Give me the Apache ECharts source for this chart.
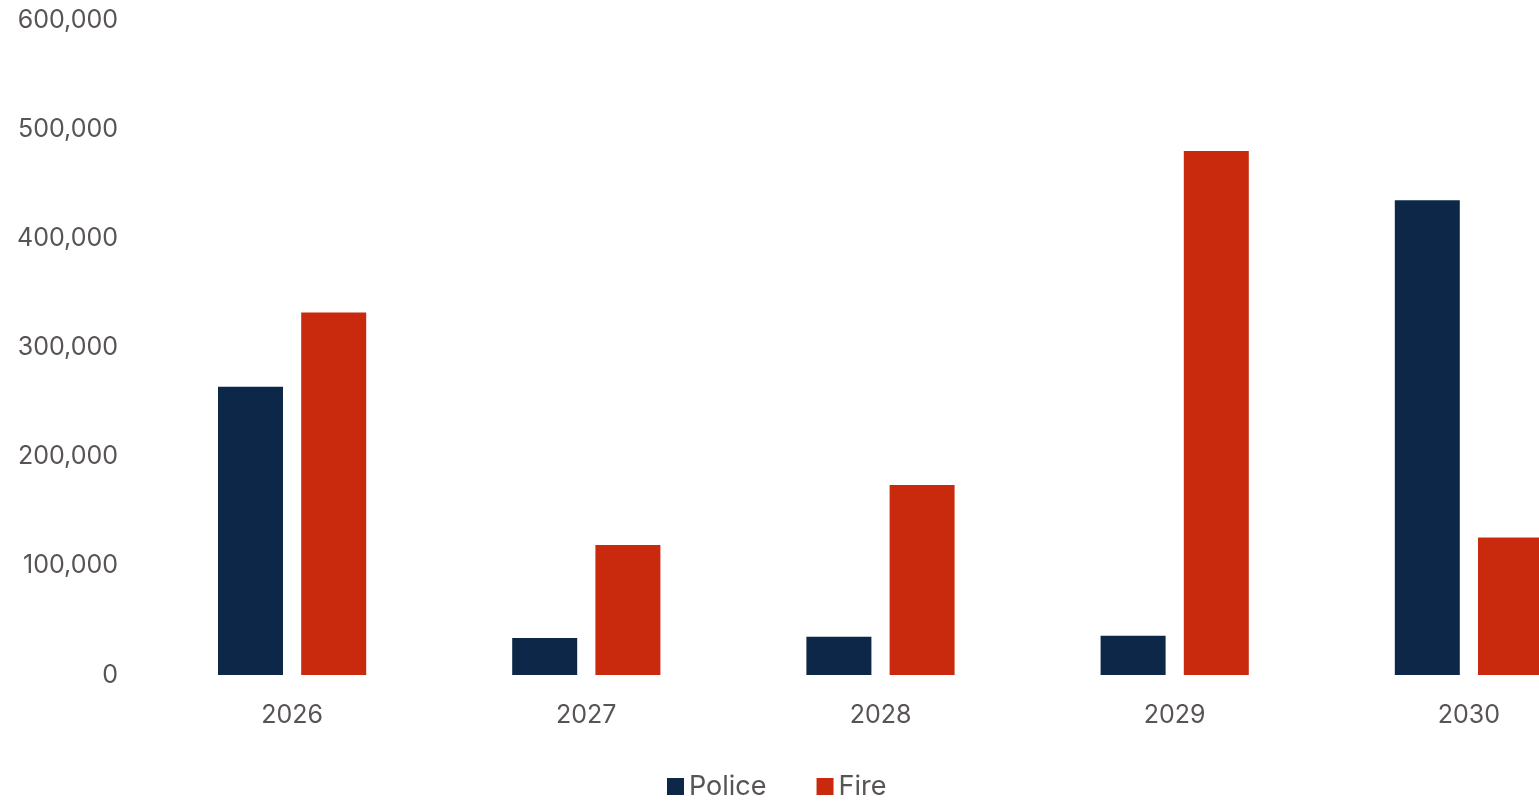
<!DOCTYPE html>
<html><head><meta charset="utf-8">
<script src="https://cdn.jsdelivr.net/npm/echarts@6/dist/echarts.min.js"></script>
<style>html,body{margin:0;padding:0;background:#fff;overflow:hidden;width:1539px;height:805px}#c{width:1616px;height:805px}</style>
</head><body><div id="c"></div>
<script>
const categories = ['2026','2027','2028','2029','2030'];
const police = [264000, 34000, 35000, 36000, 435000];
const fire = [332000, 119000, 174000, 480000, 126000];
const yTicks = [0, 100000, 200000, 300000, 400000, 500000, 600000];

const chart = echarts.init(document.getElementById('c'));
const labelColor = '#595454';
const font = 'Inter, "Open Sans", sans-serif';
chart.setOption({
  backgroundColor: '#ffffff',
  animation: false,
  grid: { left: 145, right: 0, top: 20, bottom: 130, containLabel: false },
  legend: {
    bottom: 0, left: 662,
    itemWidth: 17, itemHeight: 17, itemGap: 50, icon: 'rect',
    textStyle: { color: labelColor, fontSize: 27, fontFamily: font },
    data: ['Police', 'Fire']
  },
  xAxis: {
    type: 'category', data: categories,
    axisLine: { show: false }, axisTick: { show: false },
    axisLabel: { color: labelColor, fontSize: 25, fontFamily: font, margin: 28 }
  },
  yAxis: {
    type: 'value', min: yTicks[0], max: yTicks[yTicks.length-1], interval: 100000,
    splitLine: { show: false }, axisLine: { show: false }, axisTick: { show: false },
    axisLabel: {
      color: labelColor, fontSize: 25, fontFamily: font, margin: 27,
      formatter: v => v.toLocaleString('en-US')
    }
  },
  series: [
    { name: 'Police', type: 'bar', data: police, barWidth: 65, barGap: '28%',
      itemStyle: { color: '#0c2748' } },
    { name: 'Fire', type: 'bar', data: fire, barWidth: 65,
      itemStyle: { color: '#c92a0e' } }
  ]
});
</script></body></html>
